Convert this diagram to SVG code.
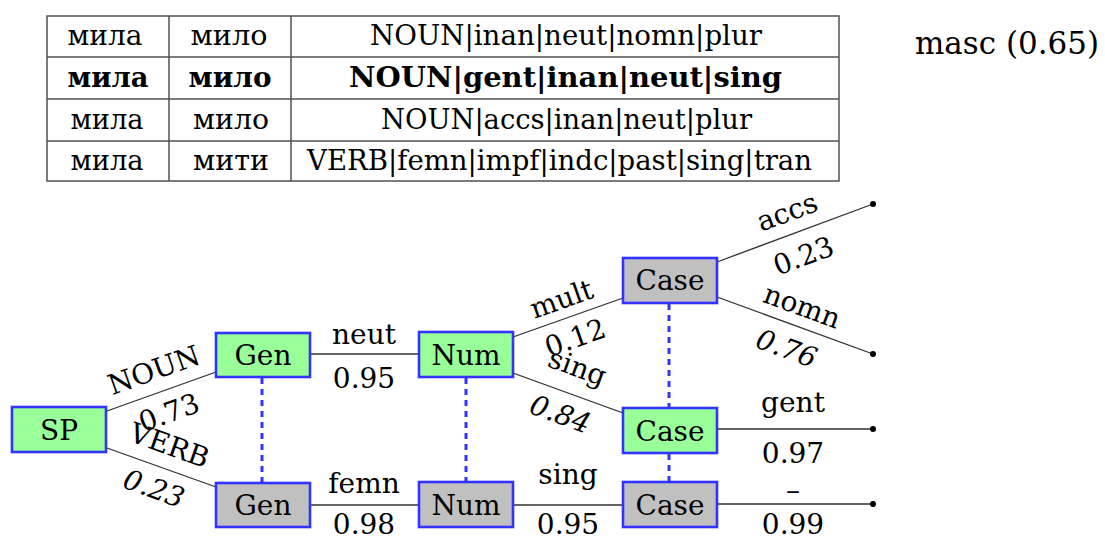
<svg xmlns="http://www.w3.org/2000/svg" width="1105" height="541" viewBox="0 0 1105 541">
  <style>
    text { font-family: "DejaVu Serif", "Liberation Serif", "Noto Serif", serif; font-size: 28px; fill: #000; }
    .c { text-anchor: middle; }
    .b { font-weight: bold; }
    .it { font-style: italic; }
    .grid { stroke: #505050; stroke-width: 1.5; fill: none; }
    .box { stroke: #3333ff; stroke-width: 2.6; }
    .green { fill: #99ff99; }
    .grey { fill: #c0c0c0; }
    .edge { stroke: #303030; stroke-width: 1.3; fill: none; }
    .tie { stroke: #3333ff; stroke-width: 3; stroke-dasharray: 6 5; fill: none; }
    .dot { fill: #000; }
  </style>

  <!-- analysis table -->
  <g id="table">
    <rect class="grid" x="47" y="16" width="792" height="165"/>
    <line class="grid" x1="47" y1="57" x2="839" y2="57"/>
    <line class="grid" x1="47" y1="99" x2="839" y2="99"/>
    <line class="grid" x1="47" y1="141" x2="839" y2="141"/>
    <line class="grid" x1="169" y1="16" x2="169" y2="181"/>
    <line class="grid" x1="291" y1="16" x2="291" y2="181"/>

    <text class="c" x="105" y="45" textLength="75" lengthAdjust="spacingAndGlyphs">мила</text>
    <text class="c" x="229" y="45" textLength="77" lengthAdjust="spacingAndGlyphs">мило</text>
    <text x="370" y="45" textLength="392" lengthAdjust="spacingAndGlyphs">NOUN|inan|neut|nomn|plur</text>

    <text class="c b" x="108" y="87" textLength="81" lengthAdjust="spacingAndGlyphs">мила</text>
    <text class="c b" x="230" y="87" textLength="83" lengthAdjust="spacingAndGlyphs">мило</text>
    <text class="b" x="349" y="87" textLength="433" lengthAdjust="spacingAndGlyphs">NOUN|gent|inan|neut|sing</text>

    <text class="c" x="107" y="129" textLength="73" lengthAdjust="spacingAndGlyphs">мила</text>
    <text class="c" x="231" y="129" textLength="76" lengthAdjust="spacingAndGlyphs">мило</text>
    <text x="381" y="129" textLength="371" lengthAdjust="spacingAndGlyphs">NOUN|accs|inan|neut|plur</text>

    <text class="c" x="107" y="170" textLength="73" lengthAdjust="spacingAndGlyphs">мила</text>
    <text class="c" x="231" y="170" textLength="76" lengthAdjust="spacingAndGlyphs">мити</text>
    <text x="307" y="170" textLength="505" lengthAdjust="spacingAndGlyphs">VERB|femn|impf|indc|past|sing|tran</text>
  </g>

  <text id="masc" x="915" y="54" style="font-size:32px" textLength="184" lengthAdjust="spacingAndGlyphs">masc (0.65)</text>

  <!-- connectors and their labels -->
  <g id="connectors">
    <line class="edge" x1="107" y1="411" x2="216" y2="372"/>
    <line class="edge" x1="107" y1="448" x2="216" y2="487"/>
    <line class="edge" x1="310" y1="354" x2="419" y2="354"/>
    <line class="edge" x1="310" y1="505" x2="419" y2="505"/>
    <line class="edge" x1="513" y1="337" x2="623" y2="298"/>
    <line class="edge" x1="513" y1="373" x2="623" y2="413"/>
    <line class="edge" x1="513" y1="505" x2="623" y2="505"/>
    <line class="edge" x1="717" y1="262" x2="873" y2="204"/>
    <line class="edge" x1="717" y1="297" x2="873" y2="354"/>
    <line class="edge" x1="717" y1="429" x2="873" y2="429"/>
    <line class="edge" x1="717" y1="504" x2="873" y2="504"/>

    <circle class="dot" cx="873" cy="204" r="3"/>
    <circle class="dot" cx="873" cy="354" r="3"/>
    <circle class="dot" cx="873" cy="429" r="3"/>
    <circle class="dot" cx="873" cy="504" r="3"/>

    <!-- dotted ties between aligned nodes -->
    <line class="tie" x1="262" y1="378" x2="262" y2="482"/>
    <line class="tie" x1="466" y1="378" x2="466" y2="481"/>
    <line class="tie" x1="669" y1="304" x2="669" y2="407"/>
    <line class="tie" x1="669" y1="454" x2="669" y2="481"/>

    <!-- sloped labels -->
    <g transform="translate(161.5,391.5) rotate(-19.7)">
      <text class="c" x="0" y="-13">NOUN</text>
      <text class="c" x="0" y="32">0.73</text>
    </g>
    <g transform="translate(161.5,467.5) rotate(19.7)">
      <text class="c" x="0" y="-14">VERB</text>
      <text class="c it" x="0" y="32">0.23</text>
    </g>
    <g transform="translate(568,317.5) rotate(-19.5)">
      <text class="c" x="0" y="-10">mult</text>
      <text class="c" x="0" y="31">0.12</text>
    </g>
    <g transform="translate(568,393) rotate(20)">
      <text class="c" x="0" y="-18">sing</text>
      <text class="c it" x="0" y="32">0.84</text>
    </g>
    <g transform="translate(795,233) rotate(-20.4)">
      <text class="c" x="0" y="-13">accs</text>
      <text class="c" x="0" y="34">0.23</text>
    </g>
    <g transform="translate(795,325.5) rotate(20.1)">
      <text class="c" x="0" y="-11">nomn</text>
      <text class="c it" x="0" y="34">0.76</text>
    </g>

    <!-- level labels -->
    <text class="c" x="364" y="344">neut</text>
    <text class="c" x="364" y="388">0.95</text>
    <text class="c" x="364" y="493">femn</text>
    <text class="c" x="364" y="534">0.98</text>
    <text class="c" x="568" y="484">sing</text>
    <text class="c" x="568" y="534">0.95</text>
    <text class="c" x="793" y="412">gent</text>
    <text class="c" x="793" y="463">0.97</text>
    <text class="c" x="793" y="500">–</text>
    <text class="c" x="793" y="534">0.99</text>
  </g>

  <!-- nodes -->
  <g id="sp">
    <rect class="box green" x="12" y="407" width="94" height="45"/>
    <text class="c" x="59" y="440">SP</text>
  </g>
  <g id="gen-noun">
    <rect class="box green" x="216" y="333" width="94" height="44"/>
    <text class="c" x="263" y="365">Gen</text>
  </g>
  <g id="gen-verb">
    <rect class="box grey" x="216" y="483" width="94" height="44"/>
    <text class="c" x="263" y="515">Gen</text>
  </g>
  <g id="num-noun">
    <rect class="box green" x="419" y="332" width="94" height="45"/>
    <text class="c" x="466" y="365">Num</text>
  </g>
  <g id="num-verb">
    <rect class="box grey" x="419" y="482" width="94" height="45"/>
    <text class="c" x="466" y="515">Num</text>
  </g>
  <g id="case-mult">
    <rect class="box grey" x="623" y="258" width="94" height="45"/>
    <text class="c" x="670" y="290">Case</text>
  </g>
  <g id="case-sing">
    <rect class="box green" x="623" y="408" width="94" height="45"/>
    <text class="c" x="670" y="441">Case</text>
  </g>
  <g id="case-verb">
    <rect class="box grey" x="623" y="482" width="94" height="45"/>
    <text class="c" x="670" y="515">Case</text>
  </g>
</svg>
